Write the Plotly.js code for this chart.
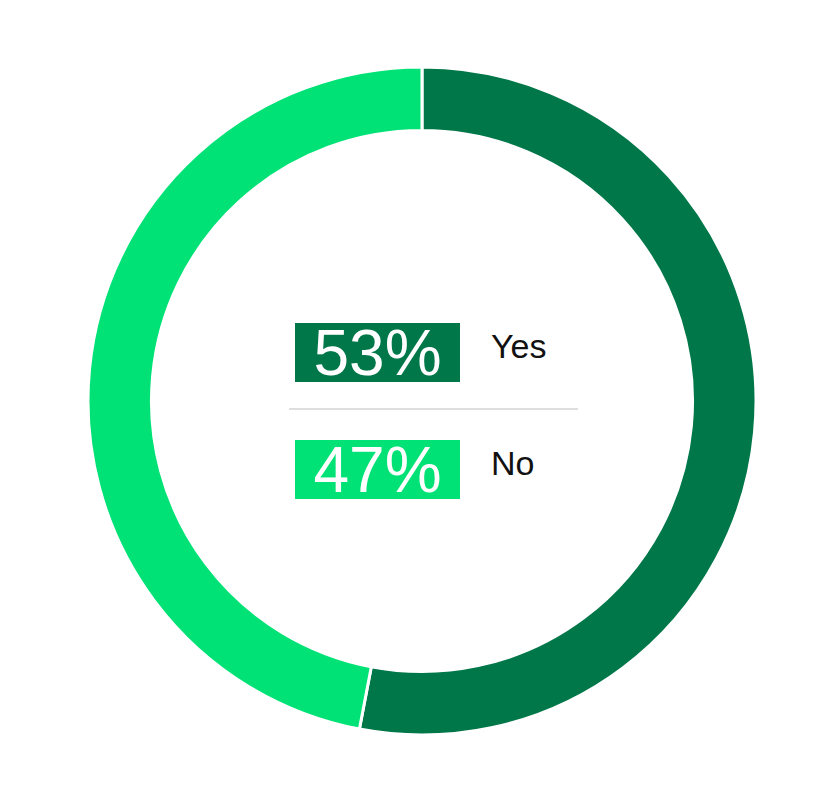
<!DOCTYPE html>
<html>
<head>
<meta charset="utf-8">
<script src="https://cdn.plot.ly/plotly-3.0.1.min.js"></script>
<style>html,body{margin:0;padding:0;background:#fff;}#chart{width:832px;height:800px;}</style>
</head>
<body>
<div id="chart"></div>
<script>
const labels = ["Yes", "No"];
const values = [53, 47];
const colors = ["#007749", "#00E276"];

const W = 832, H = 800;
const cx = 422, cy = 401, R = 334;

const trace = {
  type: "pie",
  labels: labels,
  values: values,
  sort: false,
  direction: "clockwise",
  rotation: 0,
  hole: 0.81,
  textinfo: "none",
  hoverinfo: "label+percent",
  marker: { colors: colors, line: { color: "#ffffff", width: 3 } },
  domain: { x: [(cx - R) / W, (cx + R) / W], y: [(H - cy - R) / H, (H - cy + R) / H] },
  showlegend: false
};

const boxCenters = [352.5, 469];
const labelCenters = [346, 463];
const annotations = [];
labels.forEach((lab, i) => {
  annotations.push({
    xref: "paper", yref: "paper",
    x: 377.5 / W, y: 1 - boxCenters[i] / H,
    xanchor: "center", yanchor: "middle",
    text: values[i] + "%",
    showarrow: false,
    bgcolor: colors[i],
    borderpad: 0, borderwidth: 0,
    width: 165, height: 59,
    align: "center", valign: "middle",
    font: { family: "Liberation Sans, Arial, sans-serif", size: 64, color: "#ffffff" }
  });
  annotations.push({
    xref: "paper", yref: "paper",
    x: 489 / W, y: 1 - labelCenters[i] / H,
    xanchor: "left", yanchor: "middle",
    text: lab,
    showarrow: false,
    font: { family: "Liberation Sans, Arial, sans-serif", size: 34, color: "#111111" }
  });
});

const layout = {
  width: W, height: H,
  margin: { l: 0, r: 0, t: 0, b: 0 },
  paper_bgcolor: "#ffffff",
  plot_bgcolor: "#ffffff",
  annotations: annotations,
  shapes: [{
    type: "line", xref: "paper", yref: "paper",
    x0: 289 / W, x1: 578 / W, y0: 1 - 409 / H, y1: 1 - 409 / H,
    line: { color: "#bdbdbd", width: 1 }
  }]
};

Plotly.newPlot("chart", [trace], layout, { displayModeBar: false, staticPlot: true });
</script>
</body>
</html>
